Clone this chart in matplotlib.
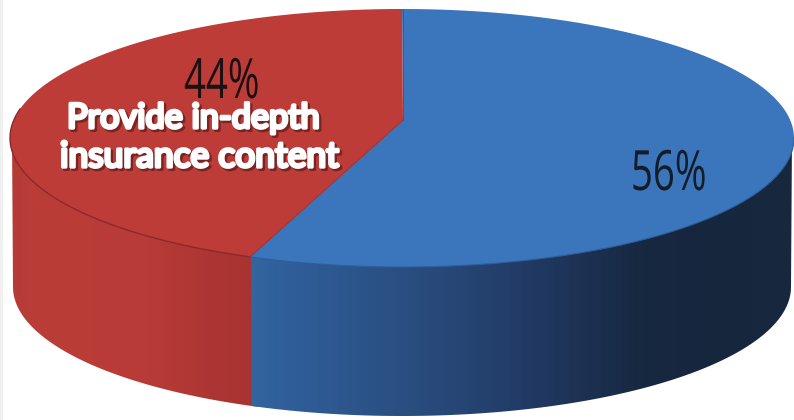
import numpy as np
import matplotlib
matplotlib.use('Agg')
import matplotlib.pyplot as plt
import matplotlib.patheffects as pe
from matplotlib.colors import LinearSegmentedColormap
from matplotlib.patches import Polygon, Rectangle
from matplotlib.transforms import Affine2D

# slice shares, clockwise from 12 o'clock
labels = ['56%', '44%']
values = [56, 44]
caption_lines = ['Provide in-depth', 'insurance content']

top_colors = ['#3b75bc', '#bd3c37']

# disc geometry in image pixels
cx, cy = 402, 138
a, b = 392, 129
a_low = 389
apex = (403, 120)
depth = 149
view_skew = 1.2  # the tilted view pulls the slice edge a little to the left

fig = plt.figure(figsize=(7.94, 4.2), dpi=100)
ax = fig.add_axes([0, 0, 1, 1])
ax.set_xlim(0, 794)
ax.set_ylim(420, 0)
ax.axis('off')


class Squeeze(pe.AbstractPathEffect):
    # narrows the glyphs sideways, about the text's left end
    def __init__(self, sx):
        super().__init__()
        self.sx = sx

    def draw_path(self, renderer, gc, tpath, affine, rgbFace=None):
        renderer.draw_path(gc, tpath, Affine2D().scale(self.sx, 1) + affine, rgbFace)


# faint band down the left edge
ax.add_patch(Rectangle((0, 0), 2.5, 420, color='#f0f0f0', lw=0))


def rim(t1, t2, dy=0, rx=a, n=200):
    # points on the ellipse, angles in degrees clockwise from the top
    t = np.radians(np.linspace(t1, t2, n))
    return np.column_stack([cx + rx * np.sin(t), cy - b * np.cos(t) + dy])


split = 360 * values[0] / sum(values) + view_skew

# side wall, red part and blue part filled with horizontal gradients
blue_cmap = LinearSegmentedColormap.from_list('blue_side', [
    (0, '#33659f'), (0.08, '#2f5d98'), (0.3, '#294d7f'), (0.5, '#223b66'),
    (0.72, '#172841'), (0.85, '#15263d'), (1, '#18293f')])
red_cmap = LinearSegmentedColormap.from_list('red_side', [
    (0, '#b53b37'), (0.12, '#bb3d38'), (0.55, '#b83b37'), (0.8, '#ad3634'), (1, '#a73331')])

wall_parts = [(split - 1, 270, red_cmap), (90, split, blue_cmap)]
for t1, t2, cmap in wall_parts:
    outline = np.vstack([rim(t1, t2, -2, a - 2), rim(t2, t1, depth, a_low)])
    x0, x1 = outline[:, 0].min(), outline[:, 0].max()
    im = ax.imshow(np.linspace(0, 1, 256)[None, :], cmap=cmap, aspect='auto',
                   extent=[x0, x1, 420, 0], zorder=2, interpolation='bilinear')
    im.set_clip_path(Polygon(outline, transform=ax.transData))

ax.set_xlim(0, 794)
ax.set_ylim(420, 0)

# top face
blue_face = np.vstack([[apex], rim(0, split)])
red_face = np.vstack([[apex], rim(split, 360)])
ax.add_patch(Polygon(blue_face, closed=True, fc=top_colors[0], ec='none', zorder=4))
ax.add_patch(Polygon(red_face, closed=True, fc=top_colors[1], ec='none', zorder=4))

# dark rim under the red face and along the slice edge
seam = rim(split, split + 0.01)[0]
front = rim(split, 283)
ax.plot(front[:, 0], front[:, 1], color='#8a2a2a', lw=1.0, zorder=5)
ax.plot([apex[0], seam[0]], [apex[1], seam[1]], color='#a33230', lw=0.8, zorder=5)
ax.plot([apex[0], apex[0]], [apex[1], 9], color='#a33230', lw=0.6, zorder=5)
front = rim(90, split)
ax.plot(front[:, 0], front[:, 1], color='#2f5e98', lw=0.8, zorder=5)

# percentage labels, condensed
ax.text(631, 190, labels[0], family='Open Sans', fontsize=40, color='#141c28',
        ha='left', va='baseline', zorder=6, path_effects=[Squeeze(0.69)])
ax.text(184, 98, labels[1], family='Open Sans', fontsize=40, color='#1d1012',
        ha='left', va='baseline', zorder=6, path_effects=[Squeeze(0.69)])

# white caption with a dark shadow, thickened by a round stroke
caption_fx = [pe.Stroke(linewidth=2.8, foreground='#7a2323', offset=(1.5, -1.5)),
              pe.Stroke(linewidth=2.4, foreground='white'),
              pe.Normal()]
ax.text(67, 128, caption_lines[0], family='Lato', fontsize=24.7, color='white',
        ha='left', va='baseline', zorder=7, path_effects=caption_fx)
ax.text(60, 167, caption_lines[1], family='Lato', fontsize=25.5, color='white',
        ha='left', va='baseline', zorder=7, path_effects=caption_fx)

fig.savefig('out.png', dpi=100)
